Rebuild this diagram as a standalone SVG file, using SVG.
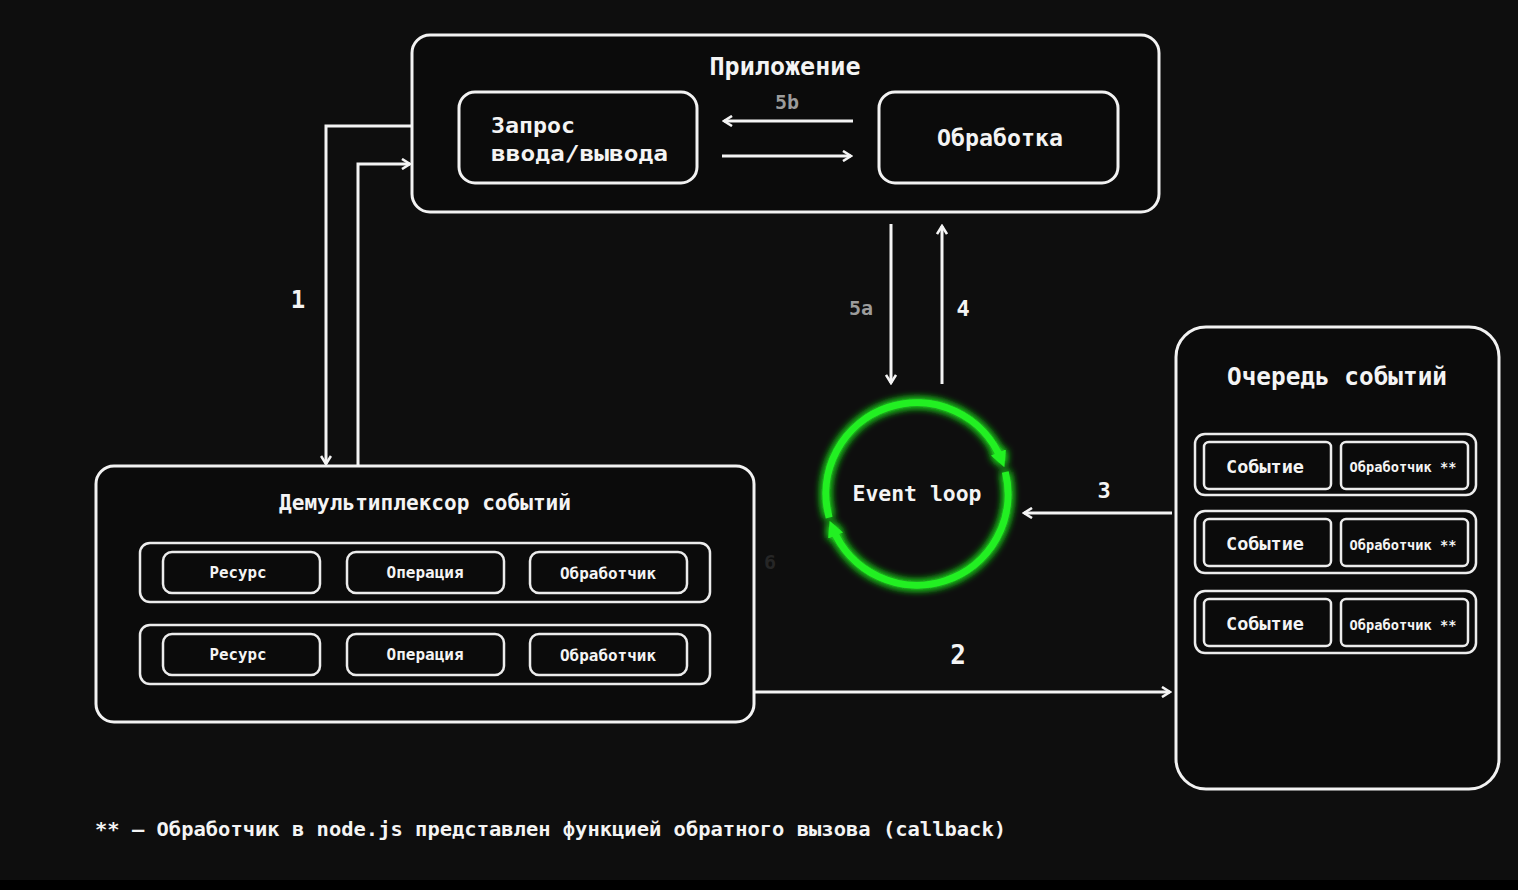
<svg xmlns="http://www.w3.org/2000/svg" width="1518" height="890" viewBox="0 0 1518 890">
<style>
.box{fill:#0b0b0b;stroke:#f2f2f2;stroke-width:3}
.in{fill:#0b0b0b;stroke:#ececec;stroke-width:2.5}
.t{font-family:"DejaVu Sans Mono","Liberation Mono",monospace;font-weight:bold;fill:#f4f4f4;text-anchor:middle;dominant-baseline:central}
.tl{font-family:"DejaVu Sans Mono","Liberation Mono",monospace;font-weight:bold;fill:#f4f4f4;dominant-baseline:central}
.c{fill:none;stroke:#f4f4f4;stroke-width:3}
.g{fill:none;stroke:#22f022;stroke-width:7}
.gray{fill:#9c9c9c}
</style>
<defs>
<marker id="ah" viewBox="0 0 12 12" refX="10" refY="6" markerWidth="12" markerHeight="12" markerUnits="userSpaceOnUse" orient="auto">
<path d="M2,1 L10,6 L2,11" fill="none" stroke="#f4f4f4" stroke-width="2.6"/>
</marker>
<marker id="gh" viewBox="0 0 10 10" refX="5" refY="5" markerWidth="16" markerHeight="16" markerUnits="userSpaceOnUse" orient="auto">
<path d="M0,0 L10,5 L0,10 z" fill="#22f022"/>
</marker>
<filter id="glow" x="-30%" y="-30%" width="160%" height="160%">
<feGaussianBlur in="SourceGraphic" stdDeviation="4" result="b"/>
<feMerge><feMergeNode in="b"/><feMergeNode in="b"/><feMergeNode in="SourceGraphic"/></feMerge>
</filter>
</defs>
<rect x="0" y="0" width="1518" height="880" fill="#0e0e0e"/>
<rect x="0" y="880" width="1518" height="10" fill="#000"/>

<g id="app">
<rect class="box" x="412" y="35" width="747" height="177" rx="18"/>
<text class="t" x="785" y="67" font-size="24" textLength="151" lengthAdjust="spacingAndGlyphs">Приложение</text>
</g>
<g id="io-request">
<rect class="box" x="459" y="92" width="238" height="91" rx="16"/>
<text class="tl" x="491" y="125" font-size="22" textLength="84" lengthAdjust="spacingAndGlyphs">Запрос</text>
<text class="tl" x="491" y="153" font-size="22" textLength="177" lengthAdjust="spacingAndGlyphs">ввода/вывода</text>
</g>
<g id="processing">
<rect class="box" x="879" y="92" width="239" height="91" rx="16"/>
<text class="t" x="1000" y="138" font-size="23" textLength="126" lengthAdjust="spacingAndGlyphs">Обработка</text>
</g>

<g id="event-loop">
<g filter="url(#glow)">
<path class="g" d="M829.1,517.6 A91,91 0 0 1 1001.4,459.9" marker-end="url(#gh)"/>
<path class="g" d="M1005.3,472.0 A91,91 0 0 1 832.6,528.1" marker-end="url(#gh)"/>
</g>
<text class="t" x="917" y="494" font-size="21" textLength="129" lengthAdjust="spacingAndGlyphs">Event loop</text>
</g>

<g id="demux">
<rect class="box" x="96" y="466" width="658" height="256" rx="18"/>
<text class="t" x="425" y="503" font-size="21" textLength="292" lengthAdjust="spacingAndGlyphs">Демультиплексор событий</text>
</g>
<g id="demux-row1">
<rect class="in" x="140" y="543" width="570" height="59" rx="10"/>
<rect class="in" x="163" y="552" width="157" height="41" rx="9"/>
<rect class="in" x="347" y="552" width="157" height="41" rx="9"/>
<rect class="in" x="530" y="552" width="157" height="41" rx="9"/>
<text class="t" x="238" y="572" font-size="16" textLength="57" lengthAdjust="spacingAndGlyphs">Ресурс</text>
<text class="t" x="425" y="572" font-size="16" textLength="77" lengthAdjust="spacingAndGlyphs">Операция</text>
<text class="t" x="608" y="573" font-size="16" textLength="96" lengthAdjust="spacingAndGlyphs">Обработчик</text>
</g>
<g id="demux-row2">
<rect class="in" x="140" y="625" width="570" height="59" rx="10"/>
<rect class="in" x="163" y="634" width="157" height="41" rx="9"/>
<rect class="in" x="347" y="634" width="157" height="41" rx="9"/>
<rect class="in" x="530" y="634" width="157" height="41" rx="9"/>
<text class="t" x="238" y="654" font-size="16" textLength="57" lengthAdjust="spacingAndGlyphs">Ресурс</text>
<text class="t" x="425" y="654" font-size="16" textLength="77" lengthAdjust="spacingAndGlyphs">Операция</text>
<text class="t" x="608" y="655" font-size="16" textLength="96" lengthAdjust="spacingAndGlyphs">Обработчик</text>
</g>

<g id="queue">
<rect class="box" x="1176" y="327" width="323" height="462" rx="30"/>
<text class="t" x="1337" y="377" font-size="24" textLength="220" lengthAdjust="spacingAndGlyphs">Очередь  событий</text>
</g>
<g id="queue-row1">
<rect class="in" x="1195" y="434" width="281" height="61" rx="10"/>
<rect class="in" x="1204" y="442" width="127" height="47" rx="5"/>
<rect class="in" x="1341" y="442" width="127" height="47" rx="5"/>
<text class="t" x="1265" y="466" font-size="18" textLength="78" lengthAdjust="spacingAndGlyphs">Событие</text>
<text class="t" x="1403" y="467" font-size="14" textLength="107" lengthAdjust="spacingAndGlyphs">Обработчик **</text>
</g>
<g id="queue-row2">
<rect class="in" x="1195" y="511" width="281" height="62" rx="10"/>
<rect class="in" x="1204" y="519" width="127" height="47" rx="5"/>
<rect class="in" x="1341" y="519" width="127" height="47" rx="5"/>
<text class="t" x="1265" y="543" font-size="18" textLength="78" lengthAdjust="spacingAndGlyphs">Событие</text>
<text class="t" x="1403" y="545" font-size="14" textLength="107" lengthAdjust="spacingAndGlyphs">Обработчик **</text>
</g>
<g id="queue-row3">
<rect class="in" x="1195" y="591" width="281" height="62" rx="10"/>
<rect class="in" x="1204" y="599" width="127" height="47" rx="5"/>
<rect class="in" x="1341" y="599" width="127" height="47" rx="5"/>
<text class="t" x="1265" y="623" font-size="18" textLength="78" lengthAdjust="spacingAndGlyphs">Событие</text>
<text class="t" x="1403" y="625" font-size="14" textLength="107" lengthAdjust="spacingAndGlyphs">Обработчик **</text>
</g>

<g id="connectors">
<path class="c" d="M412,126 H326 V464" marker-end="url(#ah)"/>
<path class="c" d="M358,466 V164 H410" marker-end="url(#ah)"/>
<path class="c" d="M853,121 H724" marker-end="url(#ah)"/>
<path class="c" d="M722,156 H851" marker-end="url(#ah)"/>
<path class="c" d="M891,224 V383" marker-end="url(#ah)"/>
<path class="c" d="M942,384 V226" marker-end="url(#ah)"/>
<path class="c" d="M1172,513 H1024" marker-end="url(#ah)"/>
<path class="c" d="M754,692 H1170" marker-end="url(#ah)"/>
<text class="t" x="298" y="300" font-size="24">1</text>
<text class="t gray" x="787" y="102" font-size="20">5b</text>
<text class="t gray" x="861" y="308" font-size="20">5a</text>
<text class="t" x="963" y="308" font-size="22">4</text>
<text class="t" x="1104" y="490" font-size="22">3</text>
<text class="t" x="958" y="655" font-size="26">2</text>
<text class="t" x="770" y="562" font-size="20" style="fill:#262626">6</text>
</g>

<g id="footnote">
<text class="tl" x="95" y="829" font-size="19" textLength="911" lengthAdjust="spacingAndGlyphs">** – Обработчик в node.js представлен функцией обратного вызова (callback)</text>
</g>
</svg>
